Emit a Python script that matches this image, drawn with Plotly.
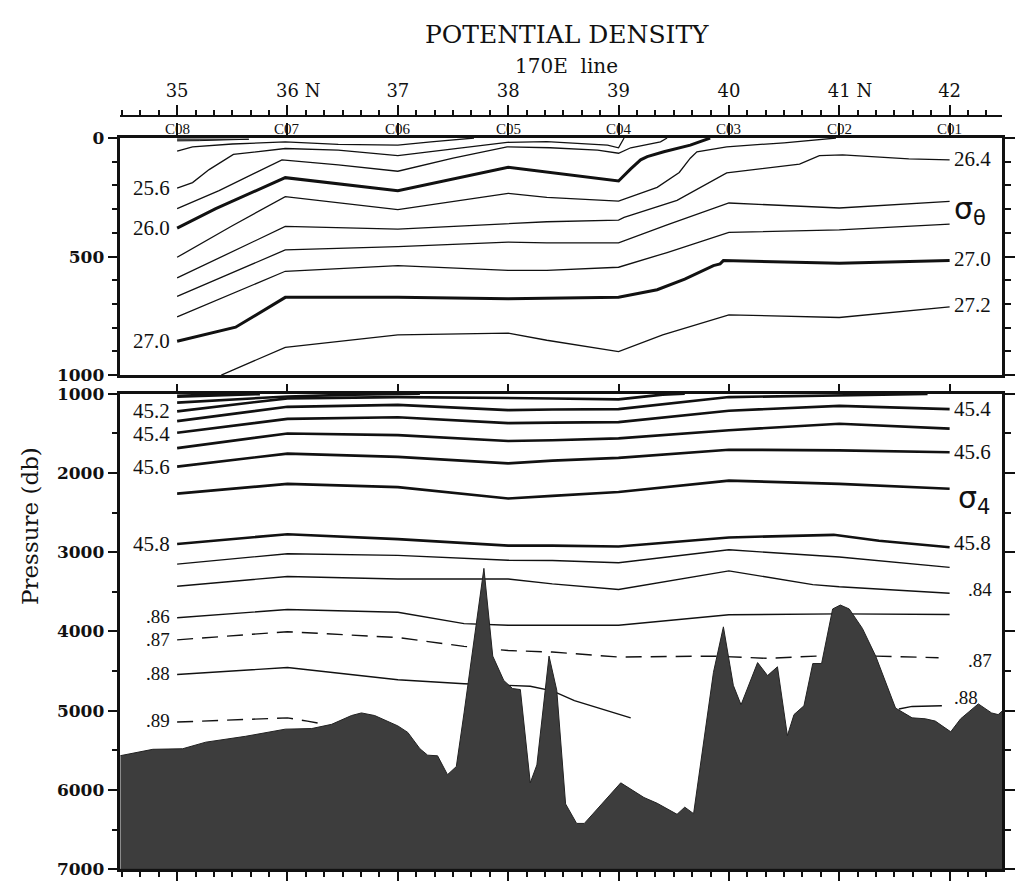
import plotly.graph_objects as go

# ---------------- data (latitude N, pressure db) ----------------
lat_ticks = [35, 36, 37, 38, 39, 40, 41, 42]
lat_labels = ["35", "36 N", "37", "38", "39", "40", "41 N", "42"]
stations = ["C08", "C07", "C06", "C05", "C04", "C03", "C02", "C01"]

# sigma-theta contours (upper panel)
st252_lat = [35.0, 35.2, 35.65, 35.2, 35.0]
st252_p = [12, 11, 5, 4, 4]
st254_lat = [35.0, 35.14, 35.5, 35.98, 36.46, 37.0, 37.3, 37.69]
st254_p = [55, 37, 25, 16, 27, 30, 16, 0]
st256_lat = [35.0, 35.14, 35.29, 35.51, 35.98, 36.46, 37.0, 37.5, 37.99, 38.35, 38.9, 39.0, 39.05]
st256_p = [211, 188, 133, 69, 44, 51, 74, 45, 18, 15, 30, 41, 0]
st258_lat = [35.0, 35.38, 35.95, 36.46, 37.0, 37.5, 37.99, 38.38, 38.81, 39.0, 39.11, 39.26, 39.38, 39.44]
st258_p = [298, 222, 92, 113, 140, 85, 37, 41, 51, 64, 41, 28, 16, 0]
st260_lat = [35.0, 35.35, 35.98, 37.0, 38.0, 38.35, 39.0, 39.11, 39.2, 39.26, 39.41, 39.65, 39.83]
st260_p = [380, 298, 167, 222, 123, 143, 181, 130, 92, 78, 58, 30, 0]
st262_lat = [35.0, 35.5, 35.98, 37.0, 38.0, 38.35, 39.0, 39.35, 39.55, 39.65, 39.71, 39.98, 40.5, 40.97]
st262_p = [503, 370, 247, 302, 233, 250, 266, 208, 145, 85, 58, 37, 20, 0]
st264_lat = [35.0, 35.98, 37.0, 38.0, 38.35, 39.0, 39.05, 39.53, 39.98, 40.64, 40.82, 41.03, 41.63, 42.0]
st264_p = [590, 373, 384, 359, 353, 346, 335, 263, 147, 110, 74, 71, 88, 92]
st266_lat = [35.0, 35.98, 37.0, 38.0, 38.35, 39.0, 39.44, 40.0, 41.0, 42.0]
st266_p = [668, 472, 458, 439, 442, 442, 366, 274, 295, 267]
st268_lat = [35.0, 35.98, 37.0, 38.0, 38.35, 39.0, 39.44, 40.0, 41.0, 42.0]
st268_p = [754, 562, 538, 558, 558, 545, 483, 398, 387, 363]
st270_lat = [35.0, 35.53, 35.98, 37.0, 38.0, 39.0, 39.35, 39.6, 39.86, 39.92, 39.95, 41.0, 42.0]
st270_p = [857, 798, 672, 672, 678, 672, 640, 595, 538, 531, 517, 528, 517]
st272_lat = [35.4, 35.98, 37.0, 38.0, 38.35, 39.0, 39.4, 40.0, 41.0, 42.0]
st272_p = [1000, 883, 830, 823, 853, 901, 830, 746, 757, 712]

# sigma-4 contours (lower panel)
s4_450_lat = [35.0, 35.4, 35.75]
s4_450_p = [1031, 1012, 1000]
s4_451_lat = [35.0, 35.5, 36.0, 36.6, 37.2]
s4_451_p = [1113, 1070, 1035, 1012, 1000]
s4_452_lat = [35.0, 36.0, 37.0, 38.0, 38.4, 39.0, 39.4, 39.6]
s4_452_p = [1223, 1059, 1043, 1051, 1060, 1072, 1012, 1000]
s4_453_lat = [35.0, 36.0, 37.0, 38.0, 38.4, 39.0, 40.0, 41.0, 41.8]
s4_453_p = [1346, 1166, 1141, 1207, 1200, 1195, 1043, 1025, 1005]
s4_454_lat = [35.0, 36.0, 37.0, 38.0, 38.4, 39.0, 40.0, 41.0, 42.0]
s4_454_p = [1494, 1318, 1297, 1371, 1365, 1359, 1215, 1154, 1195]
s4_455_lat = [35.0, 36.0, 37.0, 38.0, 38.4, 39.0, 40.0, 41.0, 42.0]
s4_455_p = [1687, 1502, 1523, 1597, 1588, 1564, 1461, 1379, 1441]
s4_456_lat = [35.0, 36.0, 37.0, 38.0, 38.4, 39.0, 40.0, 41.0, 42.0]
s4_456_p = [1920, 1756, 1797, 1879, 1845, 1810, 1707, 1715, 1740]
s4_457_lat = [35.0, 36.0, 37.0, 38.0, 38.4, 39.0, 40.0, 41.0, 42.0]
s4_457_p = [2261, 2138, 2179, 2322, 2290, 2240, 2097, 2138, 2199]
s4_458_lat = [35.0, 36.0, 37.0, 38.0, 38.4, 39.0, 40.0, 40.95, 41.36, 42.0]
s4_458_p = [2896, 2773, 2835, 2917, 2917, 2929, 2814, 2781, 2855, 2937]
s4_4582_lat = [35.0, 36.0, 37.0, 38.0, 38.4, 39.0, 40.0, 41.0, 42.0]
s4_4582_p = [3150, 3019, 3040, 3101, 3105, 3134, 2970, 3060, 3191]
s4_4584_lat = [35.0, 36.0, 37.0, 38.0, 38.4, 39.0, 40.0, 40.76, 41.0, 42.0]
s4_4584_p = [3429, 3306, 3339, 3339, 3400, 3470, 3236, 3409, 3437, 3519]
s4_4586_lat = [35.0, 36.0, 37.0, 37.6, 38.0, 38.4, 39.0, 40.0, 41.0, 42.0]
s4_4586_p = [3827, 3724, 3757, 3901, 3921, 3921, 3921, 3790, 3778, 3786]
s4_4587_lat = [35.0, 36.0, 37.0, 37.6, 38.0, 38.4, 39.0, 39.86, 40.35, 40.79, 41.33, 41.9]
s4_4587_p = [4106, 4003, 4077, 4188, 4241, 4260, 4323, 4311, 4339, 4311, 4311, 4331]
s4_4588a_lat = [35.0, 36.0, 37.0, 37.6, 38.0, 38.2, 38.4, 38.6, 39.11]
s4_4588a_p = [4544, 4454, 4610, 4659, 4680, 4692, 4750, 4872, 5090]
s4_4588b_lat = [41.54, 41.66, 41.93]
s4_4588b_p = [4979, 4946, 4938]
s4_4589_lat = [35.0, 35.72, 36.0, 36.18, 36.34]
s4_4589_p = [5143, 5102, 5090, 5131, 5172]

# bottom topography
bathy_lat = [34.48, 34.78, 35.05, 35.26, 35.62, 35.98, 36.22, 36.40, 36.58, 36.67, 36.79, 37.0,
             37.09, 37.20, 37.27, 37.36, 37.45, 37.53, 37.60, 37.68, 37.78, 37.86, 37.96, 38.04,
             38.11, 38.20, 38.26, 38.37, 38.44, 38.52, 38.62, 38.69, 39.02, 39.23, 39.35, 39.53,
             39.60, 39.68, 39.86, 39.95, 40.04, 40.11, 40.26, 40.35, 40.44, 40.53, 40.59, 40.68,
             40.76, 40.84, 40.94, 41.01, 41.09, 41.21, 41.33, 41.51, 41.66, 41.78, 41.87, 42.01,
             42.10, 42.26, 42.38, 42.44, 42.48]
bathy_p = [5569, 5487, 5480, 5397, 5323, 5233, 5225, 5172, 5061, 5028, 5061, 5192,
           5274, 5480, 5561, 5569, 5807, 5705, 5028, 4208, 3204, 4311, 4619, 4721,
           4733, 5910, 5684, 4311, 4742, 6176, 6422, 6422, 5910, 6095, 6168, 6307,
           6217, 6299, 4516, 3942, 4680, 4926, 4393, 4557, 4446, 5315, 5049, 4938,
           4405, 4405, 3716, 3667, 3716, 3962, 4311, 4967, 5090, 5102, 5131, 5266,
           5102, 4914, 5028, 5049, 5000]

# ---------------- figure ----------------
W, H = 1015, 889
X_RANGE = [34.486, 42.475]
TOP_RANGE = [1000, 0]
BOT_RANGE = [7000, 1000]

def px_x(px):
    return px / W

def px_y(py):
    return 1 - py / H

XDOM = [px_x(121), px_x(1007)]
YDOM_TOP = [px_y(373.5), px_y(131)]
YDOM_BOT = [px_y(879), px_y(392.5)]

INK = "#111111"
fig = go.Figure()


def add_line(lat, p, axes, width=1.3, dash=None, fill=None, fillcolor=None):
    fig.add_trace(go.Scatter(
        x=lat, y=p, xaxis=axes[0], yaxis=axes[1], mode="lines",
        line=dict(color=INK, width=width, dash=dash, shape="linear"),
        fill=fill, fillcolor=fillcolor,
        hoverinfo="skip", showlegend=False))


top = ("x", "y")
bot = ("x2", "y2")

# upper panel
add_line(st252_lat, st252_p, top, 1.0, fill="toself", fillcolor="#888888")
add_line(st254_lat, st254_p, top)
add_line(st256_lat, st256_p, top)
add_line(st258_lat, st258_p, top)
add_line(st260_lat, st260_p, top, 3.0)
add_line(st262_lat, st262_p, top)
add_line(st264_lat, st264_p, top)
add_line(st266_lat, st266_p, top)
add_line(st268_lat, st268_p, top)
add_line(st270_lat, st270_p, top, 3.0)
add_line(st272_lat, st272_p, top)

# lower panel
THICK = 2.6
add_line(s4_450_lat, s4_450_p, bot, 3.5)
add_line(s4_451_lat, s4_451_p, bot, THICK)
add_line(s4_452_lat, s4_452_p, bot, THICK)
add_line(s4_453_lat, s4_453_p, bot, THICK)
add_line(s4_454_lat, s4_454_p, bot, THICK)
add_line(s4_455_lat, s4_455_p, bot, THICK)
add_line(s4_456_lat, s4_456_p, bot, THICK)
add_line(s4_457_lat, s4_457_p, bot, THICK)
add_line(s4_458_lat, s4_458_p, bot, THICK)
add_line(s4_4582_lat, s4_4582_p, bot, 1.4)
add_line(s4_4584_lat, s4_4584_p, bot, 1.4)
add_line(s4_4586_lat, s4_4586_p, bot, 1.4)
add_line(s4_4587_lat, s4_4587_p, bot, 1.4, dash="16px,9px")
add_line(s4_4588a_lat, s4_4588a_p, bot, 1.4)
add_line(s4_4588b_lat, s4_4588b_p, bot, 1.4)
add_line(s4_4589_lat, s4_4589_p, bot, 1.4, dash="16px,9px")

# topography (filled down to the bottom of the axis)
fig.add_trace(go.Scatter(
    x=bathy_lat + [bathy_lat[-1], bathy_lat[0]],
    y=bathy_p + [BOT_RANGE[0], BOT_RANGE[0]],
    xaxis="x2", yaxis="y2", mode="lines", fill="toself",
    fillcolor="#3d3d3d", line=dict(color="#222222", width=1),
    hoverinfo="skip", showlegend=False))

# dummy traces to activate the extra tick axes
fig.add_trace(go.Scatter(x=[35], y=[0], xaxis="x3", yaxis="y", mode="markers",
                         marker=dict(opacity=0), hoverinfo="skip", showlegend=False))
fig.add_trace(go.Scatter(x=[35], y=[1000], xaxis="x4", yaxis="y2", mode="markers",
                         marker=dict(opacity=0), hoverinfo="skip", showlegend=False))

SERIF = "DejaVu Serif"
common_x = dict(range=X_RANGE, domain=XDOM, showgrid=False, zeroline=False,
                linecolor=INK, tickcolor=INK)

fig.update_layout(
    width=W, height=H, margin=dict(l=0, r=0, t=0, b=0),
    paper_bgcolor="white", plot_bgcolor="white",
    font=dict(family=SERIF, color=INK),
    xaxis=dict(**common_x, anchor="y", side="top", showline=True, linewidth=2.5,
               mirror=True, ticks="outside", ticklen=12, tickwidth=1.5,
               tickmode="array", tickvals=lat_ticks, showticklabels=False),
    yaxis=dict(domain=YDOM_TOP, range=TOP_RANGE, anchor="x", showgrid=False, zeroline=False,
               showline=True, linewidth=2.5, linecolor=INK, mirror="ticks",
               ticks="outside", ticklen=10, tickwidth=2, tickcolor=INK,
               tickmode="array", tickvals=[0, 500, 1000],
               minor=dict(dtick=100, tick0=0, ticks="outside", ticklen=6, tickwidth=2,
                          tickcolor=INK, showgrid=False),
               tickfont=dict(family=SERIF, size=17, weight="bold")),
    xaxis2=dict(**common_x, anchor="y2", side="bottom", showline=True, linewidth=2.5,
                mirror=True, ticks="outside", ticklen=9, tickwidth=2,
                tickmode="array", tickvals=lat_ticks, showticklabels=False,
                minor=dict(tick0=35, dtick=1 / 6, ticks="outside", ticklen=5, tickwidth=2,
                           tickcolor=INK, showgrid=False)),
    yaxis2=dict(domain=YDOM_BOT, range=BOT_RANGE, anchor="x2", showgrid=False, zeroline=False,
                showline=True, linewidth=2.5, linecolor=INK, mirror="ticks",
                ticks="outside", ticklen=10, tickwidth=2, tickcolor=INK,
                tickmode="array", tickvals=[1000, 2000, 3000, 4000, 5000, 6000, 7000],
                minor=dict(dtick=500, tick0=0, ticks="outside", ticklen=6, tickwidth=2,
                           tickcolor=INK, showgrid=False),
                tickfont=dict(family=SERIF, size=17, weight="bold")),
    xaxis3=dict(**common_x, overlaying="x", anchor="free", position=px_y(108), side="top",
                showline=True, linewidth=2, ticks="outside", ticklen=10, tickwidth=2,
                tickmode="array", tickvals=lat_ticks,
                ticktext=["35", "<span style='color:white'>N </span>36 N", "37", "38", "39", "40",
                          "<span style='color:white'>N </span>41 N", "42"],
                minor=dict(tick0=35, dtick=1 / 6, ticks="outside", ticklen=5, tickwidth=2,
                           tickcolor=INK, showgrid=False),
                tickfont=dict(family=SERIF, size=18)),
    xaxis4=dict(**common_x, overlaying="x2", anchor="y2", side="top", showline=False,
                ticks="outside", ticklen=9, tickwidth=2, tickmode="array",
                tickvals=lat_ticks, showticklabels=False),
)

ann = []
LBL = "Liberation Serif"


def label(text, lat, p, axes, anchor, size=21, family=LBL):
    ann.append(dict(text=text, x=lat, y=p, xref=axes[0], yref=axes[1],
                    xanchor=anchor, yanchor="middle", showarrow=False,
                    font=dict(family=family, size=size, color=INK)))


# station names along the upper frame
for lat, name in zip(lat_ticks, stations):
    ann.append(dict(text=name, x=lat, y=px_y(122), xref="x", yref="paper",
                    xanchor="center", yanchor="middle", showarrow=False,
                    font=dict(family=LBL, size=15, color=INK)))

# upper panel labels
label("25.6", 34.95, 212, top, "right")
label("26.0", 34.95, 378, top, "right")
label("27.0", 34.95, 855, top, "right")
label("26.4", 42.02, 88, top, "left")
label("σ<sub>θ</sub>", 42.02, 305, top, "left", size=30, family="DejaVu Sans")
label("27.0", 42.02, 510, top, "left")
label("27.2", 42.02, 706, top, "left")
# lower panel labels
label("45.2", 34.95, 1215, bot, "right")
label("45.4", 34.95, 1510, bot, "right")
label("45.6", 34.95, 1925, bot, "right")
label("45.8", 34.95, 2895, bot, "right")
label(".86", 34.95, 3810, bot, "right", size=19)
label(".87", 34.95, 4105, bot, "right", size=19)
label(".88", 34.95, 4530, bot, "right", size=19)
label(".89", 34.95, 5125, bot, "right", size=19)
label("45.4", 42.02, 1190, bot, "left")
label("45.6", 42.02, 1730, bot, "left")
label("σ<sub>4</sub>", 42.06, 2330, bot, "left", size=30, family="DejaVu Sans")
label("45.8", 42.02, 2890, bot, "left")
label(".84", 42.15, 3465, bot, "left", size=19)
label(".87", 42.15, 4365, bot, "left", size=19)
label(".88", 42.02, 4830, bot, "left", size=19)

# titles
ann.append(dict(text="POTENTIAL DENSITY", x=px_x(570), y=px_y(25), xref="paper", yref="paper",
                showarrow=False, xanchor="center", yanchor="middle",
                font=dict(family=SERIF, size=25, color=INK)))
ann.append(dict(text="170E  line", x=px_x(569), y=px_y(57), xref="paper", yref="paper",
                showarrow=False, xanchor="center", yanchor="middle",
                font=dict(family=SERIF, size=20, color=INK)))
ann.append(dict(text="Pressure (db)", x=px_x(30), y=px_y(528), xref="paper", yref="paper",
                showarrow=False, xanchor="center", yanchor="middle", textangle=-90,
                font=dict(family=SERIF, size=23, color=INK)))

fig.update_layout(annotations=ann)
fig.write_html("out.html")
